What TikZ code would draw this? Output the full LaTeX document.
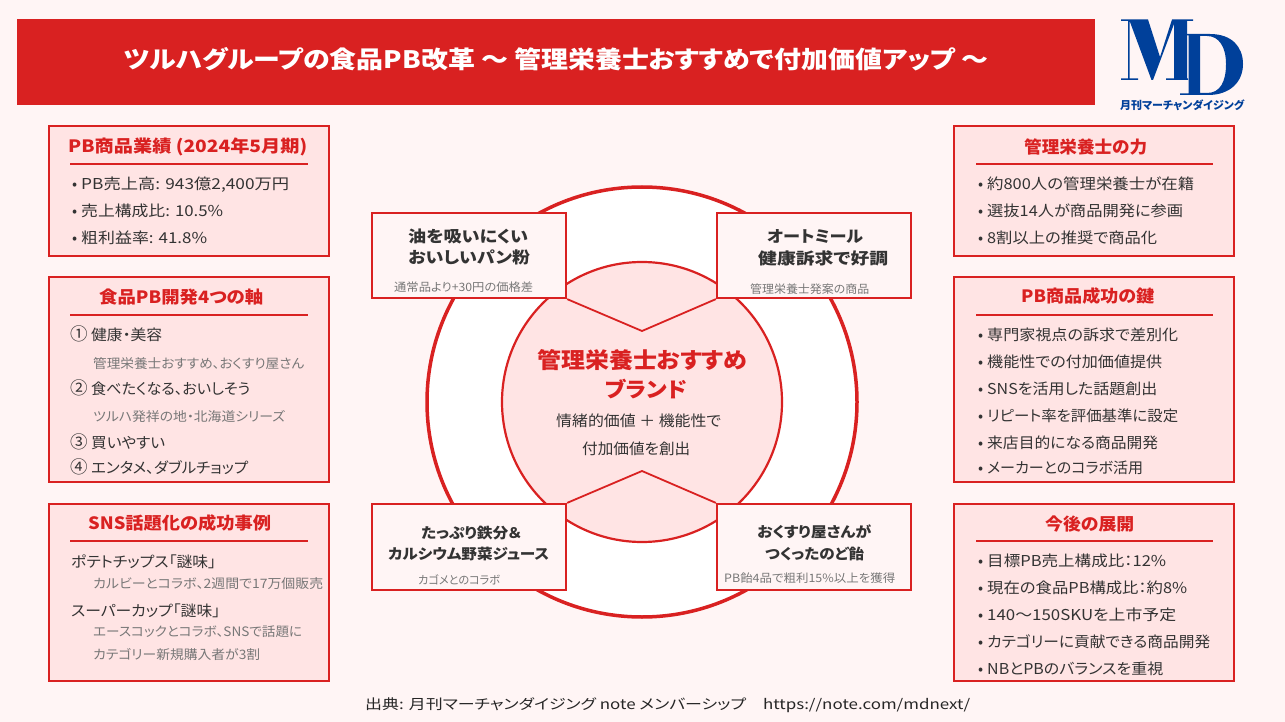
\documentclass[tikz,border=0pt]{standalone}
\usepackage{fontspec}
\setmainfont[RawFeature={+palt}]{Noto Sans CJK JP}
\definecolor{bgc}{HTML}{FFF5F5}
\definecolor{redc}{HTML}{D92121}
\definecolor{pinkc}{HTML}{FFE4E4}
\definecolor{darkc}{HTML}{333333}
\definecolor{grayc}{HTML}{777777}
\definecolor{bluec}{HTML}{00409A}
% set a text to the width it has in the picture
\newcommand{\fw}[2]{\resizebox{#1pt}{\height}{#2}}
\newcommand{\bl}[2]{\makebox[9pt][l]{•}\fw{#1}{#2}}
\newcommand{\nm}[3]{\makebox[21pt][l]{\fontsize{17.5}{17.5}\selectfont #1}\fw{#2}{#3}}
\tikzset{
 x=1pt,y=-1pt,
 fnt/.style={font=\fontsize{#1}{#1}\selectfont,yshift=-#1*0.37pt},
 fntb/.style={font=\fontsize{#1}{#1}\selectfont\bfseries,yshift=-#1*0.37pt},
 txt/.style={inner sep=0pt,anchor=base west},
 panel/.style={draw=redc,line width=2pt,fill=pinkc},
 prod/.style={draw=redc,line width=2.2pt,fill=bgc,inner sep=0pt},
 ruleline/.style={draw=redc,line width=1.6pt},
 ttl/.style={txt,text=redc,fntb=17},
 item/.style={txt,text=darkc,fnt=15},
 sub/.style={txt,text=grayc,fnt=13},
 ptext/.style={txt,text=darkc,fntb=16},
 ptexts/.style={txt,text=darkc,fntb=14.5},
 psub/.style={txt,text=grayc,fnt=11.5},
}
\begin{document}
\begin{tikzpicture}
\useasboundingbox (0,0) rectangle (1285,722);
\fill[bgc] (0,0) rectangle (1285,722);
% banner
\fill[redc] (17,19) rectangle (1095,105);
\node[txt,text=white,fntb=24] (title) at (124,60) {\fw{864}{ツルハグループの食品PB改革 〜 管理栄養士おすすめで付加価値アップ 〜}};
% logo
\fill[bluec] (1121,19.5) -- (1148,19.5) -- (1160,57) -- (1172,19.5) -- (1193,19.5) -- (1193,21) -- (1187,21) -- (1187,78.5) -- (1188,78.5) -- (1188,80) -- (1166,80) -- (1166,78.5) -- (1174,78.5) -- (1174,24) -- (1153,80) -- (1151.5,80) -- (1130,22) -- (1129.5,22) -- (1129.5,78.5) -- (1138,78.5) -- (1138,80) -- (1121,80) -- (1121,78.5) -- (1128,78.5) -- (1128,21) -- (1121,21) -- cycle;
\fill[bluec,even odd rule] (1185,34) -- (1210,34) .. controls (1232,34) and (1243,47) .. (1243,64) .. controls (1243,82) and (1230,95) .. (1208,95) -- (1180,95) -- (1180,93.5) -- (1188.5,93.5) -- (1188.5,35.5) -- (1185,35.5) -- cycle
 (1200,36) -- (1200,93) -- (1207,93) .. controls (1220,93) and (1226,82) .. (1226,64) .. controls (1226,47) and (1219,36) .. (1207,36) -- cycle;
\node[txt,text=bluec,fntb=11] (logotext) at (1120,105) {\fw{124}{月刊マーチャンダイジング}};
% circles
\node[circle,draw=redc,line width=3.5pt,fill=white,minimum size=430pt,inner sep=0pt] (outer) at (642,402) {};
\node[circle,draw=redc,line width=2.2pt,fill=pinkc,minimum size=280pt,inner sep=0pt] (inner) at (642,402) {};
% product boxes
\node[prod,minimum width=194pt,minimum height=85pt] (b1) at (469,255.5) {};
\node[prod,minimum width=194pt,minimum height=85pt] (b2) at (814,255.5) {};
\node[prod,minimum width=194pt,minimum height=86pt] (b3) at (469,547) {};
\node[prod,minimum width=194pt,minimum height=86pt] (b4) at (814,547) {};
\coordinate (vtop) at (642,331);
\coordinate (vbot) at (642,471);
\draw[redc,line width=1.8pt] (b1.south east) -- (vtop) -- (b2.south west);
\draw[redc,line width=1.8pt] (b3.north east) -- (vbot) -- (b4.north west);
% centre
\node[txt,text=redc,fntb=22] (c1) at (537,360) {\fw{210}{管理栄養士おすすめ}};
\node[txt,text=redc,fntb=21] (c2) at (605,390) {\fw{82}{ブランド}};
\node[txt,text=darkc,fnt=15] (c3) at (556,421) {\fw{165}{情緒的価値 ＋ 機能性で}};
\node[txt,text=darkc,fnt=15] (c4) at (582,449) {\fw{108}{付加価値を創出}};
% product text
\node[ptext] (p11) at (408,237) {\fw{120}{油を吸いにくい}};
\node[ptext] (p12) at (408,258) {\fw{122}{おいしいパン粉}};
\node[psub] (p13) at (394,287) {\fw{139}{通常品より+30円の価格差}};
\node[ptext] (p21) at (767,237) {\fw{96}{オートミール}};
\node[ptext] (p22) at (758,259) {\fw{130}{健康訴求で好調}};
\node[psub] (p23) at (750,289) {\fw{119}{管理栄養士発案の商品}};
\node[ptexts] (p31) at (421,533) {\fw{100}{たっぷり鉄分＆}};
\node[ptexts] (p32) at (388,554) {\fw{161}{カルシウム野菜ジュース}};
\node[psub] (p33) at (418,580) {\fw{82}{カゴメとのコラボ}};
\node[ptexts] (p41) at (757,532) {\fw{114}{おくすり屋さんが}};
\node[ptexts] (p42) at (765,554) {\fw{99}{つくったのど飴}};
\node[psub] (p43) at (724,578) {\fw{171}{PB飴4品で粗利15\%以上を獲得}};
% left panels
\path[panel] (49,126) rectangle (329,256);
\path[panel] (49,277) rectangle (329,482);
\path[panel] (49,504) rectangle (329,681);
\node[ttl] (l1t) at (68,146) {\fw{239}{PB商品業績 (2024年5月期)}};
\draw[ruleline] (70,164) -- (308,164);
\node[item] (l11) at (72,184) {\bl{208}{PB売上高: 943億2,400万円}};
\node[item] (l12) at (72,211) {\bl{142}{売上構成比: 10.5\%}};
\node[item] (l13) at (72,238) {\bl{126}{粗利益率: 41.8\%}};
\node[ttl] (l2t) at (99,297) {\fw{164}{食品PB開発4つの軸}};
\draw[ruleline] (70,315) -- (308,315);
\node[item] (l21) at (70,335) {\nm{①}{71}{健康・美容}};
\node[sub] (l22) at (93,364) {\fw{211}{管理栄養士おすすめ、おくすり屋さん}};
\node[item] (l23) at (70,389) {\nm{②}{159}{食べたくなる、おいしそう}};
\node[sub] (l24) at (93,417) {\fw{192}{ツルハ発祥の地・北海道シリーズ}};
\node[item] (l25) at (70,443) {\nm{③}{74}{買いやすい}};
\node[item] (l26) at (70,468) {\nm{④}{157}{エンタメ、ダブルチョップ}};
\node[ttl] (l3t) at (88,523) {\fw{183}{SNS話題化の成功事例}};
\draw[ruleline] (70,541) -- (308,541);
\node[item] (l31) at (71,562) {\fw{145}{ポテトチップス「謎味」}};
\node[sub] (l32) at (93,584) {\fw{230}{カルビーとコラボ、2週間で17万個販売}};
\node[item] (l33) at (71,611) {\fw{149}{スーパーカップ「謎味」}};
\node[sub] (l34) at (93,632) {\fw{209}{エースコックとコラボ、SNSで話題に}};
\node[sub] (l35) at (93,655) {\fw{167}{カテゴリー新規購入者が3割}};
% right panels
\path[panel] (954,126) rectangle (1234,256);
\path[panel] (954,277) rectangle (1234,482);
\path[panel] (954,504) rectangle (1234,681);
\node[ttl] (r1t) at (1024,147) {\fw{123}{管理栄養士の力}};
\draw[ruleline] (976,164) -- (1213,164);
\node[item] (r11) at (978,184) {\bl{207}{約800人の管理栄養士が在籍}};
\node[item] (r12) at (978,211) {\bl{196}{選抜14人が商品開発に参画}};
\node[item] (r13) at (978,238) {\bl{170}{8割以上の推奨で商品化}};
\node[ttl] (r2t) at (1021,296) {\fw{133}{PB商品成功の鍵}};
\draw[ruleline] (976,315) -- (1213,315);
\node[item] (r21) at (978,335) {\bl{191}{専門家視点の訴求で差別化}};
\node[item] (r22) at (978,362) {\bl{175}{機能性での付加価値提供}};
\node[item] (r23) at (978,389) {\bl{170}{SNSを活用した話題創出}};
\node[item] (r24) at (978,416) {\bl{191}{リピート率を評価基準に設定}};
\node[item] (r25) at (978,443) {\bl{171}{来店目的になる商品開発}};
\node[item] (r26) at (978,468) {\bl{156}{メーカーとのコラボ活用}};
\node[ttl] (r3t) at (1045,524) {\fw{89}{今後の展開}};
\draw[ruleline] (976,541) -- (1213,541);
\node[item] (r31) at (978,561) {\bl{179}{目標PB売上構成比：12\%}};
\node[item] (r32) at (978,588) {\bl{200}{現在の食品PB構成比：約8\%}};
\node[item] (r33) at (978,615) {\bl{189}{140〜150SKUを上市予定}};
\node[item] (r34) at (978,642) {\bl{223}{カテゴリーに貢献できる商品開発}};
\node[item] (r35) at (978,669) {\bl{176}{NBとPBのバランスを重視}};
% footer
\node[txt,text=black!85,fnt=14] (foot) at (365,704) {\fw{605}{出典: 月刊マーチャンダイジング note メンバーシップ　https://note.com/mdnext/}};
\end{tikzpicture}
\end{document}
